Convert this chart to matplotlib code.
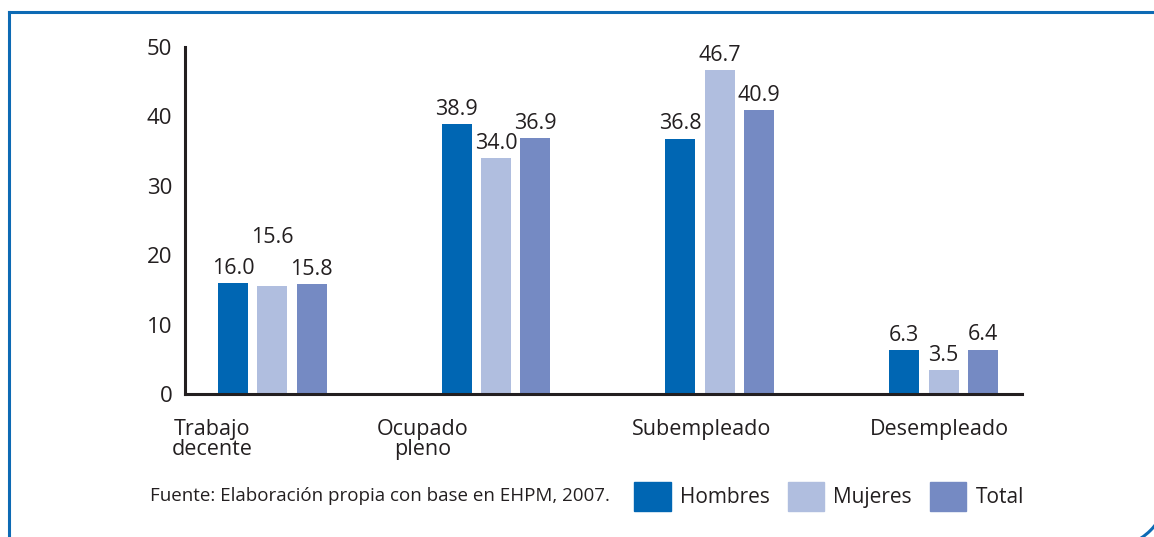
import numpy as np
import matplotlib.pyplot as plt
from matplotlib.lines import Line2D
from matplotlib.patches import Patch, Arc

plt.rcParams['font.family'] = ['Open Sans', 'DejaVu Sans']

categories = ['Trabajo\ndecente', 'Ocupado\npleno', 'Subempleado', 'Desempleado']
series = ['Hombres', 'Mujeres', 'Total']
hombres = [16.0, 38.9, 36.8, 6.3]
mujeres = [15.6, 34.0, 46.7, 3.5]
total = [15.8, 36.9, 40.9, 6.4]
yticks = [0, 10, 20, 30, 40, 50]
source = 'Fuente: Elaboración propia con base en EHPM, 2007.'

colors = ['#0066b3', '#b0bedf', '#758ac3']
text_col = '#231f20'
border_col = '#0d6ab4'

fig = plt.figure(figsize=(11.54, 5.37), dpi=100)
ax = fig.add_axes([0.1603, 0.2663, 0.7253, 0.6462])

x = np.arange(len(categories))
width = 0.134
step = 0.176
values = [hombres, mujeres, total]
# extra lift for labels that would otherwise clash
extra = {(1, 0): 24}
for i, (name, vals) in enumerate(zip(series, values)):
    xs = x + (i - 1) * step
    ax.bar(xs, vals, width, color=colors[i], label=name)
    for j, v in enumerate(vals):
        ax.annotate(f'{v:.1f}', (xs[j], v), xytext=(0, 3 + extra.get((i, j), 0)),
                    textcoords='offset points', ha='center', va='bottom',
                    fontsize=15.5, color=text_col)

ax.set_xlim(-0.39, 3.35)
ax.set_ylim(0, 50)
ax.set_yticks(yticks)
label_shift = [-0.27, -0.33, -0.08, -0.02]
ax.set_xticks(x + np.array(label_shift))
ax.set_xticklabels(categories, linespacing=0.95)
ax.tick_params(axis='x', length=0, pad=18, labelsize=15.5, labelcolor=text_col)
ax.tick_params(axis='y', length=0, pad=9, labelsize=16, labelcolor=text_col)
for s in ['top', 'right']:
    ax.spines[s].set_visible(False)
for s in ['left', 'bottom']:
    ax.spines[s].set_linewidth(2.2)
    ax.spines[s].set_color(text_col)

fig.text(0.13, 0.076, source, fontsize=13.5, color=text_col, va='center')
handles = [Patch(color=c) for c in colors]
fig.legend(handles, series, loc='center left', bbox_to_anchor=(0.5405, 0.076),
           ncol=3, frameon=False, fontsize=15, handlelength=1.75, handleheight=1.75,
           handletextpad=0.45, columnspacing=0.85, borderpad=0, labelcolor=text_col)

# frame of the box around the figure
top_y = 1 - 12 / 537
left_x = 8.5 / 1154
fig.add_artist(Line2D([left_x, 1.0], [top_y, top_y], color=border_col, lw=2.2))
fig.add_artist(Line2D([left_x, left_x], [0, top_y], color=border_col, lw=2.2))
fig.add_artist(Arc((11.08, 0.49), 1.2, 1.2, theta1=-90, theta2=0,
                   transform=fig.dpi_scale_trans, color=border_col, lw=2.2))

fig.savefig('out.png', dpi=100, facecolor='white')
